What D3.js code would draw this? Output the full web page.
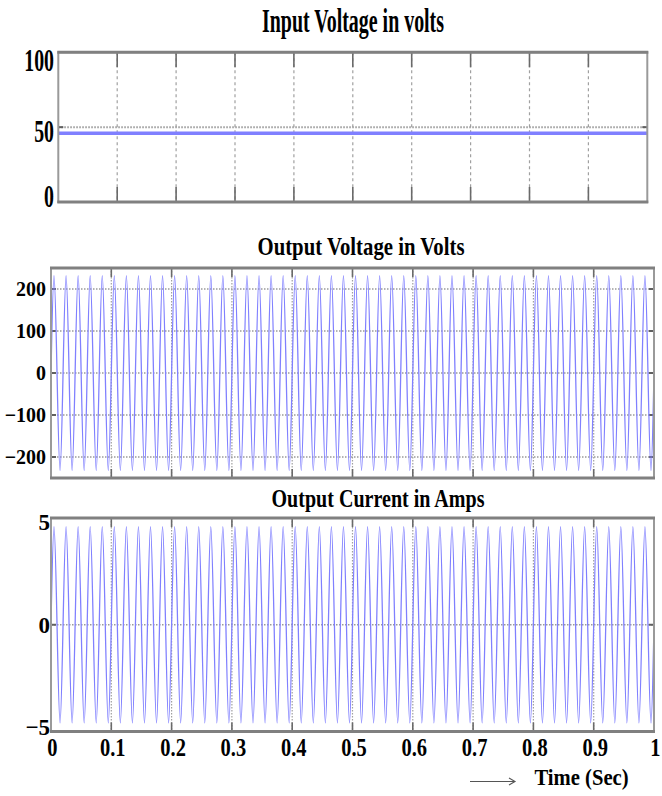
<!DOCTYPE html>
<html>
<head>
<meta charset="utf-8">
<script src="https://cdn.jsdelivr.net/npm/d3@7"></script>
<style>
  html, body { margin: 0; padding: 0; background: #fff; }
  svg { display: block; }
  text { font-family: "Liberation Serif", "Times New Roman", serif; font-weight: bold; fill: #000; }
</style>
</head>
<body>
<div id="chart"></div>
<script>
// time axis (seconds)
const timeTicks = [0, 0.1, 0.2, 0.3, 0.4, 0.5, 0.6, 0.7, 0.8, 0.9, 1];
const timeLabels = ['0', '0.1', '0.2', '0.3', '0.4', '0.5', '0.6', '0.7', '0.8', '0.9', '1'];

// input dc voltage
const inputTime = [0, 1];
const inputVoltage = [46, 46];
const inputTicks = [0, 50, 100];

// output waveforms: 50 Hz, one peak / trough per cycle
const supplyFreq = 50;
const voltageTicks = [-200, -100, 0, 100, 200];
const voltagePeaks = [
  232, 232, 232, 232, 232, 232, 232, 232, 232, 232,
  232, 232, 232, 232, 232, 232, 232, 232, 232, 232,
  232, 232, 232, 232, 232, 232, 232, 232, 232, 232,
  232, 232, 232, 232, 232, 232, 232, 232, 232, 232,
  232, 232, 232, 232, 232, 232, 232, 232, 232, 232
];
const voltageTroughs = [
  -232, -232, -232, -232, -232, -232, -232, -232, -232, -232,
  -232, -232, -232, -232, -232, -232, -232, -232, -232, -232,
  -232, -232, -232, -232, -232, -232, -232, -232, -232, -232,
  -232, -232, -232, -232, -232, -232, -232, -232, -232, -232,
  -232, -232, -232, -232, -232, -232, -232, -232, -232, -232
];
const currentTicks = [-5, 0, 5];
const currentPeaks = [
  4.6, 4.6, 4.6, 4.6, 4.6, 4.6, 4.6, 4.6, 4.6, 4.6,
  4.6, 4.6, 4.6, 4.6, 4.6, 4.6, 4.6, 4.6, 4.6, 4.6,
  4.6, 4.6, 4.6, 4.6, 4.6, 4.6, 4.6, 4.6, 4.6, 4.6,
  4.6, 4.6, 4.6, 4.6, 4.6, 4.6, 4.6, 4.6, 4.6, 4.6,
  4.6, 4.6, 4.6, 4.6, 4.6, 4.6, 4.6, 4.6, 4.6, 4.6
];
const currentTroughs = [
  -4.6, -4.6, -4.6, -4.6, -4.6, -4.6, -4.6, -4.6, -4.6, -4.6,
  -4.6, -4.6, -4.6, -4.6, -4.6, -4.6, -4.6, -4.6, -4.6, -4.6,
  -4.6, -4.6, -4.6, -4.6, -4.6, -4.6, -4.6, -4.6, -4.6, -4.6,
  -4.6, -4.6, -4.6, -4.6, -4.6, -4.6, -4.6, -4.6, -4.6, -4.6,
  -4.6, -4.6, -4.6, -4.6, -4.6, -4.6, -4.6, -4.6, -4.6, -4.6
];

const W = 662, H = 796;
const svg = d3.select('#chart').append('svg').attr('width', W).attr('height', H);
const defs = svg.append('defs');

// zero crossings + extremes of each cycle; the curve does the rest
function cyclePoints(peaks, troughs) {
    const T = 1 / supplyFreq;
    const pts = [];
    peaks.forEach((p, i) => {
        const t0 = i * T;
        pts.push([t0, 0], [t0 + T / 4, p], [t0 + T / 2, 0], [t0 + 3 * T / 4, troughs[i]]);
    });
    pts.push([peaks.length * T, 0]);
    return pts;
}

function scaledText(parent, x, y, str, size, sx, anchor) {
    return parent.append('text')
        .attr('transform', `translate(${x},${y}) scale(${sx},1)`)
        .attr('text-anchor', anchor || 'middle')
        .attr('font-size', size + 'px')
        .text(str);
}

function drawPanel(p) {
    const x = d3.scaleLinear().domain([0, 1]).range([p.left, p.right]);
    const y = d3.scaleLinear().domain(p.domain).range([p.bottom, p.top]);
    const g = svg.append('g');

    const clipId = 'clip-' + p.id;
    defs.append('clipPath').attr('id', clipId)
        .append('rect')
        .attr('x', p.left).attr('y', p.top)
        .attr('width', p.right - p.left).attr('height', p.bottom - p.top);

    // vertical grid (dotted) with solid inward ticks at both ends
    g.selectAll('.vgrid').data(timeTicks.slice(1, -1)).join('line')
        .attr('x1', d => x(d)).attr('x2', d => x(d))
        .attr('y1', p.top).attr('y2', p.bottom)
        .attr('stroke', '#a0a0a0').attr('stroke-width', 1.2)
        .attr('stroke-dasharray', p.vdash);
    g.selectAll('.vtickT').data(timeTicks.slice(1, -1)).join('line')
        .attr('x1', d => x(d)).attr('x2', d => x(d))
        .attr('y1', p.top).attr('y2', p.top + p.tickLen)
        .attr('stroke', '#6a6a6a').attr('stroke-width', 1.6);
    g.selectAll('.vtickB').data(timeTicks.slice(1, -1)).join('line')
        .attr('x1', d => x(d)).attr('x2', d => x(d))
        .attr('y1', p.bottom).attr('y2', p.bottom - p.tickLen)
        .attr('stroke', '#6a6a6a').attr('stroke-width', 1.6);

    // horizontal grid
    const inner = p.ticks.filter(v => v !== p.domain[0] && v !== p.domain[1]);
    g.selectAll('.hgrid').data(inner).join('line')
        .attr('x1', p.left).attr('x2', p.right)
        .attr('y1', d => y(d)).attr('y2', d => y(d))
        .attr('stroke', '#9a9a9a').attr('stroke-width', p.hgridW)
        .attr('stroke-dasharray', '1.5,1.5');
    g.selectAll('.htickL').data(inner).join('line')
        .attr('x1', p.left).attr('x2', p.left + 5)
        .attr('y1', d => y(d)).attr('y2', d => y(d))
        .attr('stroke', '#606060').attr('stroke-width', 2);
    g.selectAll('.htickR').data(inner).join('line')
        .attr('x1', p.right).attr('x2', p.right - 5)
        .attr('y1', d => y(d)).attr('y2', d => y(d))
        .attr('stroke', '#606060').attr('stroke-width', 2);

    // trace
    const line = d3.line()
        .x(d => x(d[0]))
        .y(d => y(d[1]))
        .curve(p.curve);
    g.append('path')
        .datum(p.data)
        .attr('clip-path', `url(#${clipId})`)
        .attr('fill', 'none')
        .attr('stroke', p.color)
        .attr('stroke-width', p.lineW)
        .attr('d', line);

    // frame: light sides, heavier top/bottom rule
    g.append('rect')
        .attr('x', p.left).attr('y', p.top)
        .attr('width', p.right - p.left).attr('height', p.bottom - p.top)
        .attr('fill', 'none').attr('stroke', '#9a9a9a').attr('stroke-width', 2);
    g.selectAll('.hrule').data([p.top, p.bottom]).join('line')
        .attr('x1', p.left - 1).attr('x2', p.right + 1)
        .attr('y1', d => d).attr('y2', d => d)
        .attr('stroke', '#808080').attr('stroke-width', 3);

    // y tick labels
    p.ticks.forEach(v => {
        const cy = Math.max(p.top + p.inTop, Math.min(p.bottom - p.inBot, y(v))) + p.labelShift;
        scaledText(g, p.labelX, cy, d3.format('d')(v), p.labelSize, p.labelSx, 'end')
            .attr('dy', '0.34em');
    });

    // title
    scaledText(g, p.titleX, p.titleY, p.title, p.titleSize, 1, 'middle')
        .attr('textLength', p.titleW)
        .attr('lengthAdjust', 'spacingAndGlyphs');

    return x;
}

drawPanel({
    id: 'vin', title: 'Input Voltage in volts',
    titleX: 353, titleY: 32, titleSize: 34, titleW: 182,
    left: 58.3, right: 647.3, top: 52.3, bottom: 202,
    domain: [0, 100], ticks: inputTicks,
    data: inputTime.map((t, i) => [t, inputVoltage[i]]), curve: d3.curveLinear,
    color: '#8080ff', lineW: 3.5,
    tickLen: 15, vdash: '3,3', hgridW: 2,
    labelX: 54, labelSize: 32, labelSx: 0.62, inTop: 4, inBot: 10, labelShift: 4
});

drawPanel({
    id: 'vout', title: 'Output Voltage in Volts',
    titleX: 361, titleY: 254.5, titleSize: 25, titleW: 207,
    left: 51, right: 654, top: 268, bottom: 478,
    domain: [-250, 250], ticks: voltageTicks,
    data: cyclePoints(voltagePeaks, voltageTroughs), curve: d3.curveNatural,
    color: '#8080ff', lineW: 1.3,
    tickLen: 9, vdash: '1.5,1.5', hgridW: 1.3,
    labelX: 46, labelSize: 21, labelSx: 0.95, inTop: 0, inBot: 0, labelShift: 0
});

const xBot = drawPanel({
    id: 'iout', title: 'Output Current in Amps',
    titleX: 378, titleY: 507, titleSize: 25, titleW: 213,
    left: 51, right: 654, top: 518, bottom: 731.5,
    domain: [-5, 5], ticks: currentTicks,
    data: cyclePoints(currentPeaks, currentTroughs), curve: d3.curveNatural,
    color: '#8080ff', lineW: 1.3,
    tickLen: 9, vdash: '1.5,1.5', hgridW: 1.3,
    labelX: 50, labelSize: 23, labelSx: 1, inTop: 4, inBot: 4, labelShift: 0
});

// time axis labels under the last panel
const axisG = svg.append('g');
timeTicks.forEach((t, i) => {
    scaledText(axisG, xBot(t) + 1.5, 756, timeLabels[i], 25, 0.82, 'middle');
});

// arrow + axis name
axisG.append('path')
    .attr('d', 'M470,781.5 H515 M509,778 L515,781.5 L509,785')
    .attr('fill', 'none').attr('stroke', '#555').attr('stroke-width', 1.1);
scaledText(axisG, 581.5, 785, 'Time (Sec)', 24, 0.86, 'middle');
</script>
</body>
</html>
